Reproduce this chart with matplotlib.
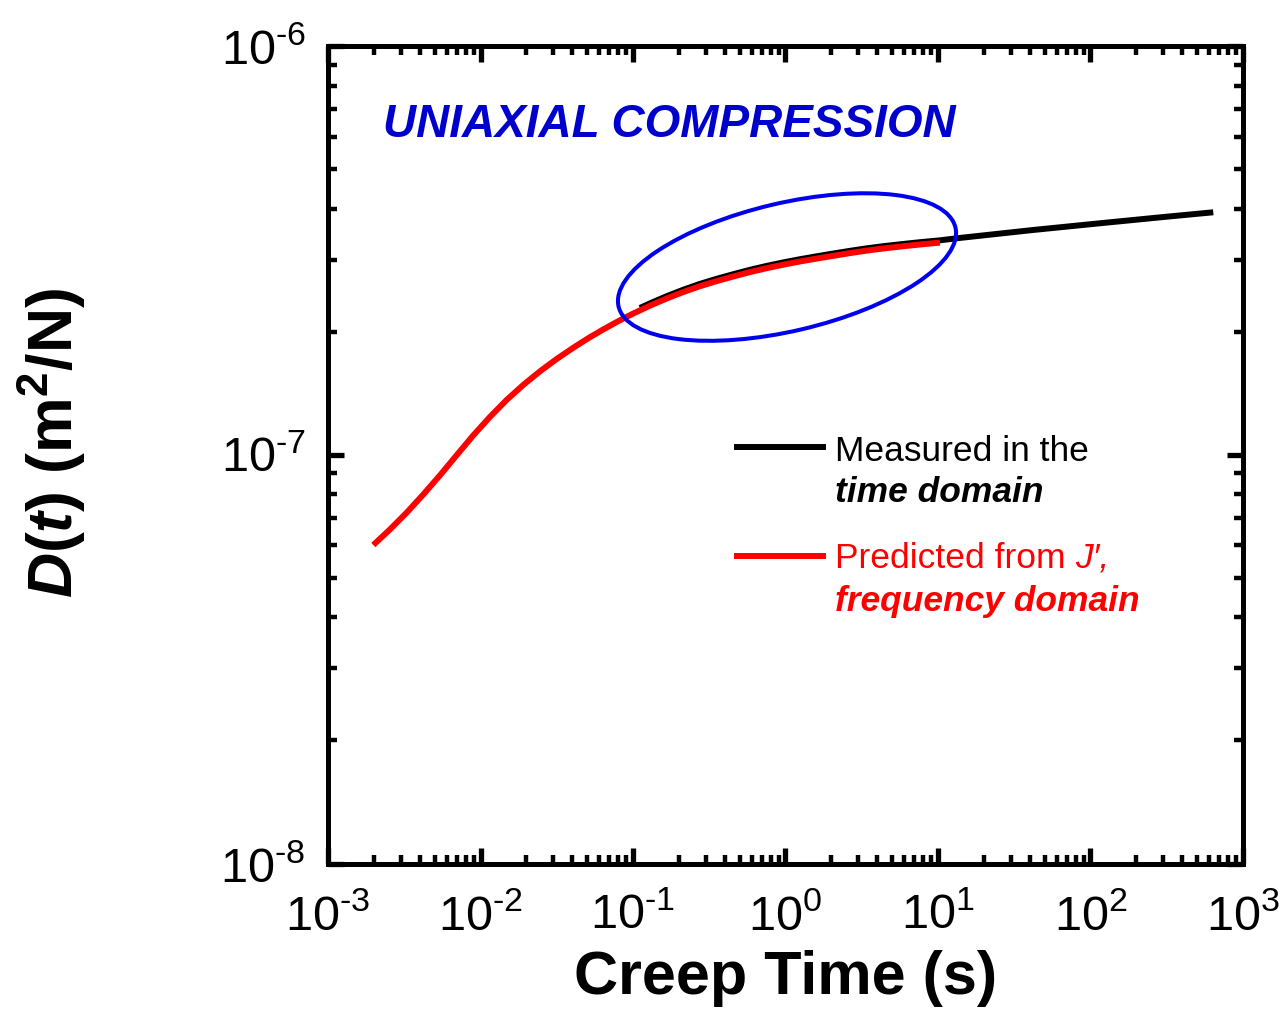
import math
import matplotlib
matplotlib.use("Agg")
import matplotlib.pyplot as plt
from matplotlib.patches import Ellipse
from matplotlib.transforms import ScaledTranslation
from matplotlib.ticker import FixedLocator, FuncFormatter, LogLocator, NullFormatter
from matplotlib.lines import Line2D

plt.rcParams['font.family'] = ['Liberation Sans', 'DejaVu Sans']
plt.rcParams['mathtext.fontset'] = 'custom'
plt.rcParams['mathtext.rm'] = 'Liberation Sans'
plt.rcParams['mathtext.it'] = 'Liberation Sans:italic'
plt.rcParams['mathtext.bf'] = 'Liberation Sans:bold'
plt.rcParams['mathtext.bfit'] = 'Liberation Sans:italic:bold'

# Creep compliance predicted from J' (frequency domain)
pred_time = [0.001982, 0.002550, 0.003282, 0.004218, 0.005425, 0.006977,
             0.008969, 0.01154, 0.01485, 0.01910, 0.02456, 0.03157, 0.04059,
             0.05091, 0.06386, 0.08009, 0.1005, 0.1293, 0.1663, 0.2139,
             0.2749, 0.3535, 0.4546, 0.5850, 0.7527, 0.9680, 1.245, 1.601,
             2.058, 2.649, 3.408, 4.382, 5.634, 7.621, 10.30]
pred_compliance = [6.014e-8, 6.567e-8, 7.219e-8, 7.998e-8, 8.907e-8,
                   9.975e-8, 1.1157e-7, 1.2377e-7, 1.3622e-7, 1.4825e-7,
                   1.6003e-7, 1.7148e-7, 1.8273e-7, 1.9282e-7, 2.0261e-7,
                   2.1227e-7, 2.2162e-7, 2.3164e-7, 2.4115e-7, 2.5014e-7,
                   2.5846e-7, 2.6595e-7, 2.7297e-7, 2.7983e-7, 2.8602e-7,
                   2.9174e-7, 2.9703e-7, 3.0193e-7, 3.0670e-7, 3.1140e-7,
                   3.1580e-7, 3.1961e-7, 3.2301e-7, 3.2690e-7, 3.3037e-7]

# Creep compliance measured in the time domain
meas_time = [0.111, 0.1293, 0.1663, 0.2139, 0.2749, 0.3535, 0.4546, 0.5850,
             0.7527, 0.9680, 1.245, 1.601, 2.058, 2.649, 3.408, 4.382, 5.634,
             7.621, 10.30, 13.24, 41.98, 115.3, 316.2, 638.3]
meas_compliance = [2.286e-7, 2.3465e-7, 2.4428e-7, 2.5339e-7, 2.6182e-7,
                   2.6941e-7, 2.7652e-7, 2.8347e-7, 2.8974e-7, 2.9553e-7,
                   3.0089e-7, 3.0586e-7, 3.1069e-7, 3.1545e-7, 3.1991e-7,
                   3.2376e-7, 3.2721e-7, 3.3115e-7, 3.3466e-7, 3.385e-7,
                   3.547e-7, 3.684e-7, 3.823e-7, 3.919e-7]

x_ticks = [1e-3, 1e-2, 1e-1, 1e0, 1e1, 1e2, 1e3]
y_ticks = [1e-8, 1e-7, 1e-6]

# highlighted overlap region (centre in data units)
ring_center = (1.023, 2.879e-7)

fig = plt.figure(figsize=(12.88, 10.11), dpi=100)
ax = fig.add_axes([328 / 1288, 1 - 863.5 / 1011, 915 / 1288, 817.5 / 1011])

ax.plot(meas_time, meas_compliance, color='black', lw=4.3,
        solid_capstyle='butt', solid_joinstyle='round', zorder=3)
ax.plot(pred_time, pred_compliance, color='#ff0000', lw=4.3,
        solid_capstyle='butt', solid_joinstyle='round', zorder=4)

ax.set_xscale('log')
ax.set_yscale('log')
ax.set_xlim(1e-3, 1e3)
ax.set_ylim(1e-8, 1e-6)


def decade_label(v, pos):
    e = int(round(math.log10(v)))
    return r'$\mathregular{10^{\text{%d}}}$' % e


for axis, ticks in ((ax.xaxis, x_ticks), (ax.yaxis, y_ticks)):
    axis.set_major_locator(FixedLocator(ticks))
    axis.set_major_formatter(FuncFormatter(decade_label))
    axis.set_minor_locator(LogLocator(base=10, subs=range(2, 10), numticks=20))
    axis.set_minor_formatter(NullFormatter())

ax.tick_params(which='both', direction='in', top=True, right=True)
ax.tick_params(which='major', length=11.7, width=3.8, labelsize=35)
ax.tick_params(axis='x', which='major', pad=22)
ax.tick_params(axis='y', which='major', pad=16)
ax.tick_params(which='minor', length=6.2, width=3.2)
for sp in ax.spines.values():
    sp.set_linewidth(3.6)

ax.set_xlabel('Creep Time (s)', fontsize=44, fontweight='bold', labelpad=7)
ax.set_ylabel(r'$\mathbfit{D}$($\mathbfit{t}$) (m$^{\mathbf{2}}$/N)',
              fontsize=45, fontweight='bold')
ax.yaxis.set_label_coords(-0.262, 0.515)

ax.text(0.060, 0.8887, 'UNIAXIAL COMPRESSION', transform=ax.transAxes,
        fontsize=33, fontweight='bold', fontstyle='italic', color='#0000cc',
        va='baseline', ha='left')

# ellipse drawn in inches so it keeps its shape on log axes
ring = Ellipse((0, 0), width=3.46, height=1.28, angle=13.2, fill=False,
               edgecolor='#0000ee', lw=2.9,
               transform=fig.dpi_scale_trans + ScaledTranslation(
                   ring_center[0], ring_center[1], ax.transData),
               zorder=5)
ax.add_artist(ring)

# legend
lx0, lx1, tx = 0.4437, 0.5443, 0.5541
fs_leg = 25.5
ax.add_line(Line2D([lx0, lx1], [0.5095, 0.5095], color='black', lw=4.3,
                   transform=ax.transAxes, solid_capstyle='butt'))
ax.add_line(Line2D([lx0, lx1], [0.3765, 0.3765], color='#ff0000', lw=4.3,
                   transform=ax.transAxes, solid_capstyle='butt'))
ax.text(tx, 0.4927, 'Measured in the', transform=ax.transAxes,
        fontsize=fs_leg, color='black', va='baseline')
ax.text(tx, 0.4426, 'time domain', transform=ax.transAxes, fontsize=fs_leg,
        fontweight='bold', fontstyle='italic', color='black', va='baseline')
t1 = ax.text(tx, 0.3615, 'Predicted from ', transform=ax.transAxes,
             fontsize=fs_leg, color='#ff0000', va='baseline')
ax.annotate("J\u2032,", xy=(1, 0), xycoords=t1, ha='left', va='bottom',
            fontsize=fs_leg, fontstyle='italic', color='#ff0000')
ax.text(tx, 0.3092, 'frequency domain', transform=ax.transAxes,
        fontsize=fs_leg, fontweight='bold', fontstyle='italic',
        color='#ff0000', va='baseline')

fig.savefig('out.png', dpi=100)
